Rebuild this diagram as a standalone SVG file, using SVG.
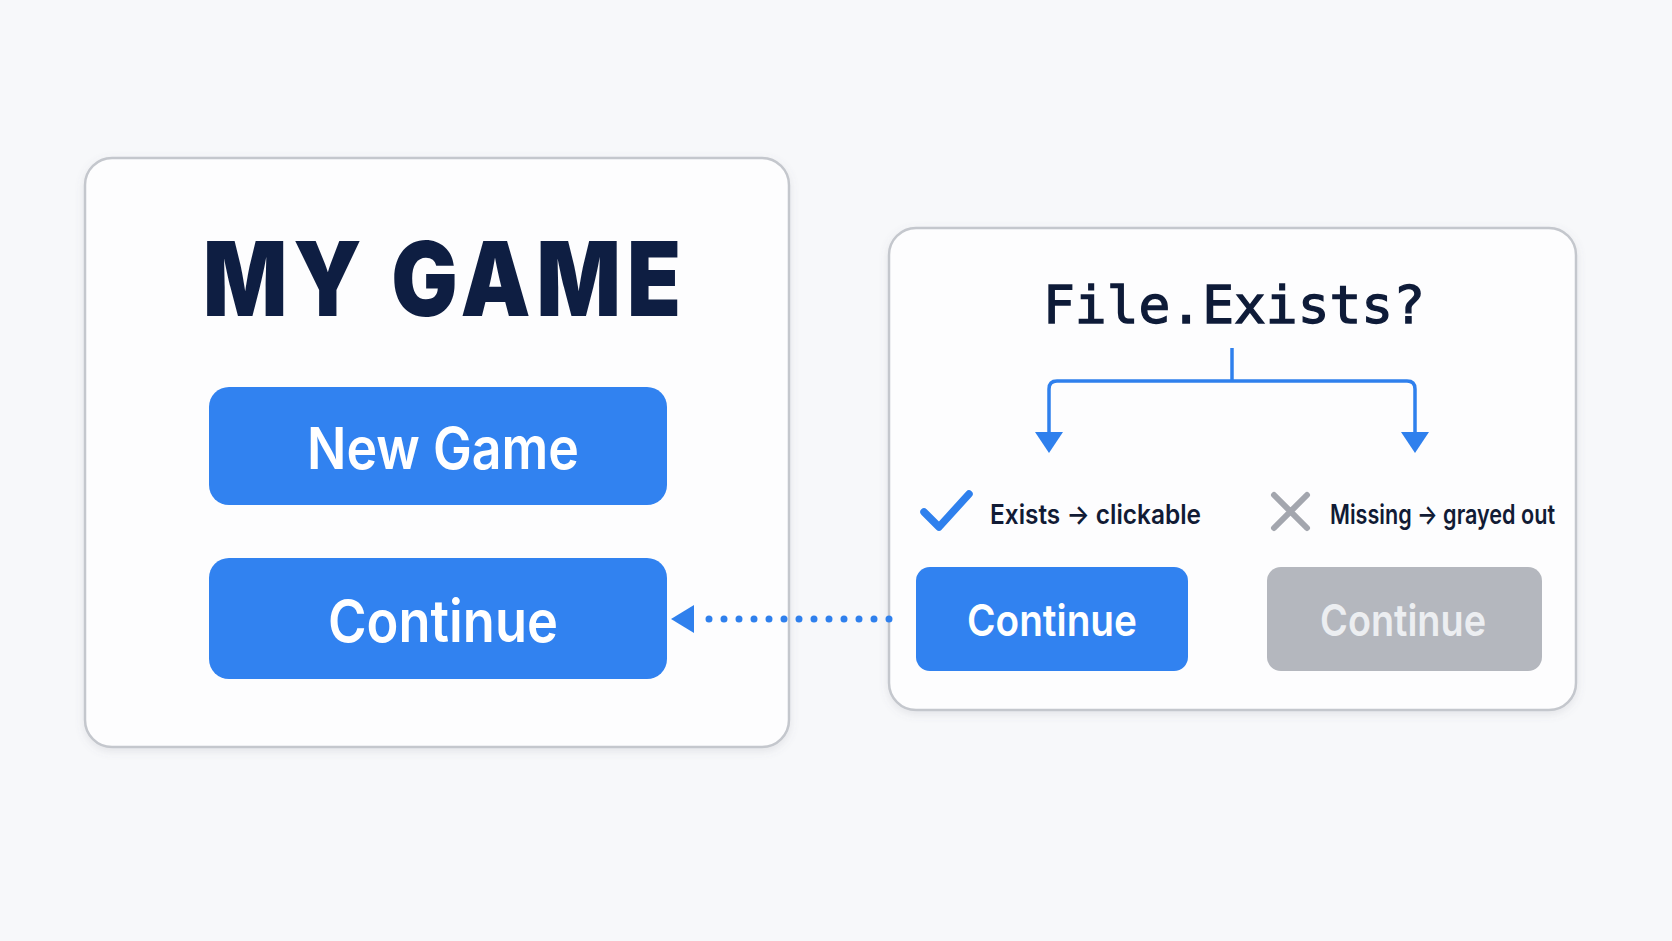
<svg xmlns="http://www.w3.org/2000/svg" width="1672" height="941" viewBox="0 0 1672 941">
  <defs>
    <filter id="shadow" x="-5%" y="-5%" width="110%" height="115%">
      <feDropShadow dx="0" dy="3" stdDeviation="4" flood-color="#6b7280" flood-opacity="0.15"/>
    </filter>
  </defs>
  <style>
    .panel { fill: #fdfdfe; stroke: #c4c7cd; stroke-width: 2.5; }
    .btn { fill: #3182f0; }
    .btn-gray { fill: #b4b7be; }
    .btn-text { font-family: Inter, "Liberation Sans", sans-serif; font-weight: 600; fill: #ffffff; text-anchor: middle; }
    .btn-text-gray { font-family: Inter, "Liberation Sans", sans-serif; font-weight: 600; fill: #eceef1; text-anchor: middle; }
    .title { font-family: Inter, "Liberation Sans", sans-serif; font-weight: 900; fill: #0e1e42; text-anchor: middle; }
    .mono { font-family: "DejaVu Sans Mono", "Liberation Mono", monospace; fill: #0e1b38; stroke: #0e1b38; stroke-width: 1.3; text-anchor: middle; }
    .label { font-family: Inter, "Liberation Sans", sans-serif; font-weight: 600; fill: #111b35; }
    .branch { fill: none; stroke: #2f80ed; stroke-width: 3.5; stroke-linejoin: round; }
  </style>
  <rect x="0" y="0" width="1672" height="941" fill="#f7f8fa"/>

  <g id="main-menu">
    <rect class="panel" x="85" y="158" width="704" height="589" rx="27" filter="url(#shadow)"/>
    <text class="title" x="445" y="316" font-size="103" letter-spacing="7" textLength="484" lengthAdjust="spacingAndGlyphs">MY GAME</text>
  </g>
  <g id="btn-new-game">
    <rect class="btn" x="209" y="387" width="458" height="118" rx="20"/>
    <text class="btn-text" x="443" y="469" font-size="58" textLength="272" lengthAdjust="spacingAndGlyphs">New Game</text>
  </g>
  <g id="btn-continue-main">
    <rect class="btn" x="209" y="558" width="458" height="121" rx="20"/>
    <text class="btn-text" x="443" y="642" font-size="58" textLength="230" lengthAdjust="spacingAndGlyphs">Continue</text>
  </g>

  <g id="file-check">
    <rect class="panel" x="889" y="228" width="687" height="482" rx="27" filter="url(#shadow)"/>
    <text class="mono" x="1234" y="323" font-size="51" textLength="382" lengthAdjust="spacingAndGlyphs">File.Exists?</text>
  </g>
  <g id="exists-label">
    <path d="M924,512 L939,527 L969,494" fill="none" stroke="#2f80ed" stroke-width="7.5" stroke-linecap="round" stroke-linejoin="round"/>
    <text class="label" x="990" y="524" font-size="27" textLength="211" lengthAdjust="spacingAndGlyphs">Exists → clickable</text>
  </g>
  <g id="missing-label">
    <path d="M1274,495 L1307,528 M1307,495 L1274,528" fill="none" stroke="#a3a6ae" stroke-width="6" stroke-linecap="round"/>
    <text class="label" x="1330" y="524" font-size="27" textLength="225" lengthAdjust="spacingAndGlyphs">Missing → grayed out</text>
  </g>
  <g id="btn-continue-enabled">
    <rect class="btn" x="916" y="567" width="272" height="104" rx="14"/>
    <text class="btn-text" x="1052" y="636" font-size="44" textLength="170" lengthAdjust="spacingAndGlyphs">Continue</text>
  </g>
  <g id="btn-continue-disabled">
    <rect class="btn-gray" x="1267" y="567" width="275" height="104" rx="14"/>
    <text class="btn-text-gray" x="1403" y="636" font-size="44" textLength="166" lengthAdjust="spacingAndGlyphs">Continue</text>
  </g>

  <g id="connectors">
    <path class="branch" d="M1232,348 L1232,381"/>
    <path class="branch" d="M1049,432 L1049,389 Q1049,381 1057,381 L1407,381 Q1415,381 1415,389 L1415,432"/>
    <path d="M1035,432 L1063,432 L1049,453 Z" fill="#2f80ed"/>
    <path d="M1401,432 L1429,432 L1415,453 Z" fill="#2f80ed"/>
    <line x1="889" y1="619" x2="708" y2="619" stroke="#2f80ed" stroke-width="7" stroke-linecap="round" stroke-dasharray="0 15"/>
    <path d="M671,619 L694,605 L694,633 Z" fill="#2f80ed"/>
  </g>
</svg>
